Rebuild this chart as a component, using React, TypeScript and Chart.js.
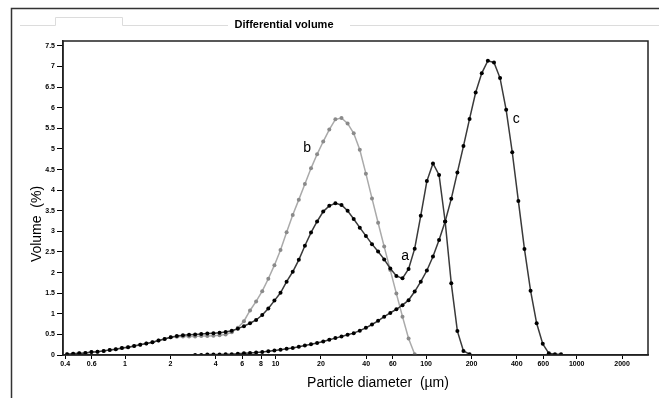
import { useEffect, useRef } from "react";
import { Chart, registerables } from "chart.js";
Chart.register(...registerables);

// Particle size channels (µm)
const sizes = [
  0.412, 0.452, 0.496, 0.545, 0.598, 0.656, 0.721, 0.791, 0.868, 0.953,
  1.047, 1.149, 1.261, 1.384, 1.52, 1.668, 1.832, 2.01, 2.207, 2.423,
  2.66, 2.92, 3.206, 3.519, 3.862, 4.241, 4.656, 5.111, 5.611, 6.159,
  6.761, 7.422, 8.148, 8.944, 9.819, 10.78, 11.83, 12.99, 14.26, 15.65,
  17.18, 18.86, 20.71, 22.73, 24.95, 27.39, 30.07, 33.01, 36.24, 39.78,
  43.67, 47.94, 52.62, 57.77, 63.41, 69.61, 76.42, 83.89, 92.09, 101.1,
  111.0, 121.8, 133.7, 146.8, 161.2, 176.9, 194.2, 213.2, 234.1, 256.9,
  282.1, 309.6, 339.9, 373.1, 409.6, 449.7, 493.6, 541.9, 594.9, 653.0,
  716.9, 786.9,
];

// Volume (%) per channel, null = no point
const seriesA = [
  0.02, 0.03, 0.04, 0.05, 0.07, 0.08, 0.1, 0.12, 0.14, 0.17,
  0.19, 0.22, 0.25, 0.28, 0.31, 0.35, 0.39, 0.43, 0.46, 0.48,
  0.49, 0.5, 0.51, 0.52, 0.53, 0.54, 0.56, 0.59, 0.64, 0.7,
  0.77, 0.85, 0.97, 1.13, 1.32, 1.51, 1.78, 2.02, 2.31, 2.65,
  2.97, 3.24, 3.48, 3.62, 3.68, 3.64, 3.5, 3.3, 3.09, 2.89,
  2.69, 2.51, 2.32, 2.1, 1.92, 1.86, 2.09, 2.58, 3.38, 4.22,
  4.65, 4.37, 3.24, 1.74, 0.58, 0.1, 0.02, null, null, null,
  null, null, null, null, null, null, null, null, null, null,
  null, null,
];

const seriesB = [
  0.02, 0.03, 0.04, 0.05, 0.07, 0.08, 0.1, 0.12, 0.14, 0.17,
  0.19, 0.22, 0.25, 0.28, 0.31, 0.35, 0.39, 0.43, 0.44, 0.45,
  0.45, 0.45, 0.46, 0.46, 0.47, 0.48, 0.5, 0.55, 0.66, 0.82,
  1.08, 1.3, 1.55, 1.85, 2.18, 2.55, 2.98, 3.4, 3.77, 4.15,
  4.53, 4.87, 5.18, 5.47, 5.72, 5.75, 5.62, 5.38, 4.98, 4.4,
  3.8, 3.21, 2.63, 2.06, 1.49, 0.93, 0.4, 0.02, null, null,
  null, null, null, null, null, null, null, null, null, null,
  null, null, null, null, null, null, null, null, null, null,
  null, null,
];

const seriesC = [
  null, null, null, null, null, null, null, null, null, null,
  null, null, null, null, null, null, null, null, null, null,
  null, 0.0, 0.0, 0.01, 0.01, 0.01, 0.02, 0.02, 0.03, 0.04,
  0.05, 0.06, 0.07, 0.09, 0.11, 0.13, 0.15, 0.17, 0.2, 0.23,
  0.26, 0.29, 0.33, 0.37, 0.41, 0.45, 0.49, 0.53, 0.59, 0.66,
  0.74, 0.83, 0.93, 1.02, 1.11, 1.21, 1.33, 1.54, 1.78, 2.05,
  2.39, 2.79, 3.24, 3.79, 4.43, 5.07, 5.73, 6.37, 6.84, 7.14,
  7.1, 6.72, 5.95, 4.92, 3.74, 2.57, 1.56, 0.77, 0.27, 0.04,
  0.02, 0.02,
];

const xTicks = [0.4, 0.6, 1, 2, 4, 6, 8, 10, 20, 40, 60, 100, 200, 400, 600, 1000, 2000];
const yTicks = [0, 0.5, 1, 1.5, 2, 2.5, 3, 3.5, 4, 4.5, 5, 5.5, 6, 6.5, 7, 7.5];

const curveLabels = ["a", "b", "c"];
const curveLabelX = [72.5, 16.2, 396];
const curveLabelY = [2.4, 5.02, 5.73];

const FONT = "'Liberation Sans', Arial, sans-serif";

function pts(arr: (number | null)[]) {
  const out: { x: number; y: number }[] = [];
  sizes.forEach((x, i) => {
    const v = arr[i];
    if (v !== null && v !== undefined) out.push({ x, y: v });
  });
  return out;
}

const decorPlugin = {
  id: "decor",
  beforeDraw(chart: any) {
    const ctx = chart.ctx;
    ctx.save();
    ctx.fillStyle = "#fff";
    ctx.fillRect(0, 0, chart.width, chart.height);
    // outer frame
    ctx.strokeStyle = "#333";
    ctx.lineWidth = 1.5;
    ctx.beginPath();
    ctx.moveTo(11.5, chart.height);
    ctx.lineTo(11.5, 8.5);
    ctx.lineTo(chart.width, 8.5);
    ctx.stroke();
    // faint tab lines
    ctx.strokeStyle = "#dcdcdc";
    ctx.lineWidth = 1;
    ctx.beginPath();
    ctx.moveTo(20, 25.5);
    ctx.lineTo(55.5, 25.5);
    ctx.lineTo(55.5, 17.5);
    ctx.lineTo(122.5, 17.5);
    ctx.lineTo(122.5, 25.5);
    ctx.lineTo(228, 25.5);
    ctx.moveTo(350, 25.5);
    ctx.lineTo(chart.width, 25.5);
    ctx.stroke();
    ctx.restore();
  },
  afterDraw(chart: any) {
    const ctx = chart.ctx;
    const a = chart.chartArea;
    ctx.save();
    // plot box
    ctx.strokeStyle = "#222";
    ctx.lineWidth = 1.5;
    ctx.strokeRect(a.left, a.top, a.right - a.left, a.bottom - a.top);
    // title
    ctx.fillStyle = "#000";
    ctx.font = `bold 11px ${FONT}`;
    ctx.textAlign = "center";
    ctx.textBaseline = "middle";
    ctx.fillText("Differential volume", 284, 25);
    // axis titles
    ctx.font = `14px ${FONT}`;
    ctx.fillText("Particle diameter  (\u00b5m)", 378, 383);
    ctx.save();
    ctx.translate(37, 224);
    ctx.rotate(-Math.PI / 2);
    ctx.fillText("Volume  (%)", 0, 0);
    ctx.restore();
    // curve labels
    const xs = chart.scales.x;
    const ys = chart.scales.y;
    ctx.font = `14px ${FONT}`;
    curveLabels.forEach((t, i) => {
      ctx.fillText(t, xs.getPixelForValue(curveLabelX[i]), ys.getPixelForValue(curveLabelY[i]));
    });
    ctx.restore();
  },
};

export default function App() {
  const ref = useRef<HTMLCanvasElement | null>(null);
  useEffect(() => {
    if (!ref.current) return;
    const tickFont = { size: 7, weight: "bold" as const, family: FONT };
    const chart = new Chart(ref.current, {
      type: "line",
      data: {
        datasets: [
          {
            label: "a",
            data: pts(seriesA),
            borderColor: "#3a3a3a",
            backgroundColor: "#000",
            borderWidth: 1.5,
            pointRadius: 2,
            pointBorderWidth: 0,
            pointBackgroundColor: "#000",
            tension: 0,
          },
          {
            label: "c",
            data: pts(seriesC),
            borderColor: "#3a3a3a",
            backgroundColor: "#000",
            borderWidth: 1.5,
            pointRadius: 2,
            pointBorderWidth: 0,
            pointBackgroundColor: "#000",
            tension: 0,
          },
          {
            label: "b",
            data: pts(seriesB),
            borderColor: "#aaaaaa",
            backgroundColor: "#8a8a8a",
            borderWidth: 1.5,
            pointRadius: 2,
            pointBorderWidth: 0,
            pointBackgroundColor: "#8a8a8a",
            tension: 0,
          },
        ],
      },
      options: {
        responsive: false,
        animation: false,
        events: [],
        layout: { padding: { left: 0, top: 41, right: 11, bottom: 0 } },
        plugins: { legend: { display: false }, title: { display: false }, tooltip: { enabled: false } },
        scales: {
          x: {
            type: "logarithmic",
            min: 0.387,
            max: 2975,
            afterBuildTicks: (s: any) => {
              s.ticks = xTicks.map((v) => ({ value: v }));
            },
            afterFit: (s: any) => {
              s.height = 43;
            },
            ticks: {
              callback: (v: any) => String(v),
              font: tickFont,
              color: "#000",
              maxRotation: 0,
              autoSkip: false,
              padding: 1,
            },
            grid: { display: true, drawOnChartArea: false, drawTicks: true, tickLength: 4, tickColor: "#000", color: "#000" },
            border: { display: true, color: "#222", width: 1.5 },
          },
          y: {
            type: "linear",
            min: 0,
            max: 7.62,
            afterBuildTicks: (s: any) => {
              s.ticks = yTicks.map((v) => ({ value: v }));
            },
            afterFit: (s: any) => {
              s.width = 63;
            },
            ticks: {
              callback: (v: any) => String(v),
              font: tickFont,
              color: "#000",
              autoSkip: false,
              padding: 2,
            },
            grid: { display: true, drawOnChartArea: false, drawTicks: true, tickLength: 6, tickColor: "#000", color: "#000" },
            border: { display: true, color: "#222", width: 1.5 },
          },
        },
      },
      plugins: [decorPlugin],
    });
    return () => chart.destroy();
  }, []);
  return (
    <div style={{ position: "fixed", left: 0, top: 0, width: 659, height: 398, background: "#fff" }}>
      <canvas ref={ref} width={659} height={398} style={{ display: "block" }} />
    </div>
  );
}
